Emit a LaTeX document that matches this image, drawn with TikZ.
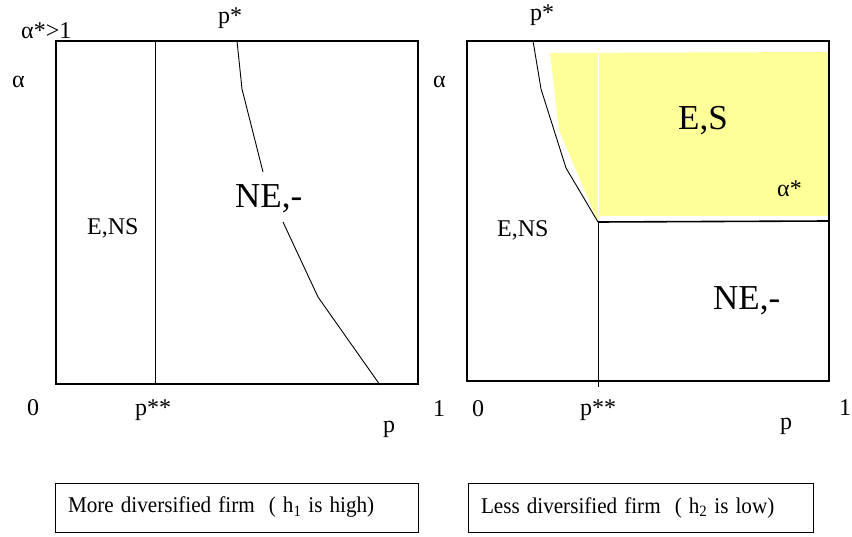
\documentclass[tikz,border=0pt]{standalone}
\usepackage{fontspec}
\setmainfont{Liberation Serif}
\definecolor{regionyellow}{RGB}{255,255,153}
\begin{document}
\begin{tikzpicture}[x=1pt,y=-1pt,
  lab/.style={font=\fontsize{24}{28}\selectfont, inner sep=0pt, anchor=base west},
  biglab/.style={font=\fontsize{35}{40}\selectfont, inner sep=0pt, anchor=base west},
  frame/.style={line width=1.2pt},
  curve/.style={line width=0.9pt},
  capbox/.style={draw, line width=1pt, minimum height=49pt, inner xsep=13pt,
    align=left, font=\fontsize{22.5}{26}\selectfont}]
\useasboundingbox (0,0) rectangle (852,537);

% ---------- left diagram ----------
\draw[frame] (56,41) rectangle (418,384);
\coordinate (Ltop) at (155,41);
\coordinate (Lbot) at (155,384);
\draw[curve] (Ltop) -- (Lbot);
\coordinate (La) at (237,41);
\coordinate (Lb) at (242,89);
\coordinate (Lc) at (263,172);
\coordinate (Ld) at (283,222);
\coordinate (Le) at (318,297);
\coordinate (Lf) at (380,385);
\draw[curve] (La) -- (Lb) -- (Lc);
\draw[curve] (Ld) -- (Le) -- (Lf);

\node[lab] (lpstar) at (218,24) {p*};
\node[lab] (lastar) at (21,39) {α*>1};
\node[lab] (lalpha) at (12,88) {α};
\node[lab] (lens) at (87,235) {E,NS};
\node[biglab] (lne) at (235,208) {NE,-};
\node[lab] (lzero) at (27,416) {0};
\node[lab] (lpss) at (135,416) {p**};
\node[lab] (lp) at (383,432) {p};
\node[lab] (lone) at (433,417) {1};

% ---------- right diagram ----------
\fill[regionyellow] (550,53) -- (829,52) -- (829,216) -- (600,216) -- (597,220)
  -- (573,163) -- (559,130) -- cycle;
\draw[white, line width=1pt] (598,53) -- (598,216);
\draw[frame] (467,41) rectangle (829,381);
\coordinate (Ra) at (533,41);
\coordinate (Rb) at (541,89);
\coordinate (Rc) at (566,168);
\coordinate (Rd) at (598,222);
\coordinate (Re) at (598,387);
\coordinate (Rf) at (829,221);
\draw[curve] (Ra) -- (Rb) -- (Rc) -- (Rd);
\draw[curve] (Rd) -- (Re);
\draw[line width=1.6pt] (Rd) -- (Rf);

\node[lab] (rpstar) at (530,21) {p*};
\node[lab] (ralpha) at (433,88) {α};
\node[biglab] (res) at (678,130) {E,S};
\node[lab] (rastar) at (777,197) {α*};
\node[lab] (rens) at (497,237) {E,NS};
\node[biglab] (rne) at (713,310) {NE,-};
\node[lab] (rzero) at (472,417) {0};
\node[lab] (rpss) at (580,416) {p**};
\node[lab] (rp) at (780,429) {p};
\node[lab] (rone) at (839,416) {1};

% ---------- captions ----------
\node[capbox, minimum width=363pt, text width=337pt] (capL) at (236.5,507.5)
  {\scalebox{0.94}[1]{More diversified firm \ ( h\textsubscript{1} is high)}};
\node[capbox, minimum width=345pt, text width=319pt] (capR) at (640.5,507.5)
  {\scalebox{0.94}[1]{Less diversified firm \ ( h\textsubscript{2} is low)}};
\end{tikzpicture}
\end{document}
